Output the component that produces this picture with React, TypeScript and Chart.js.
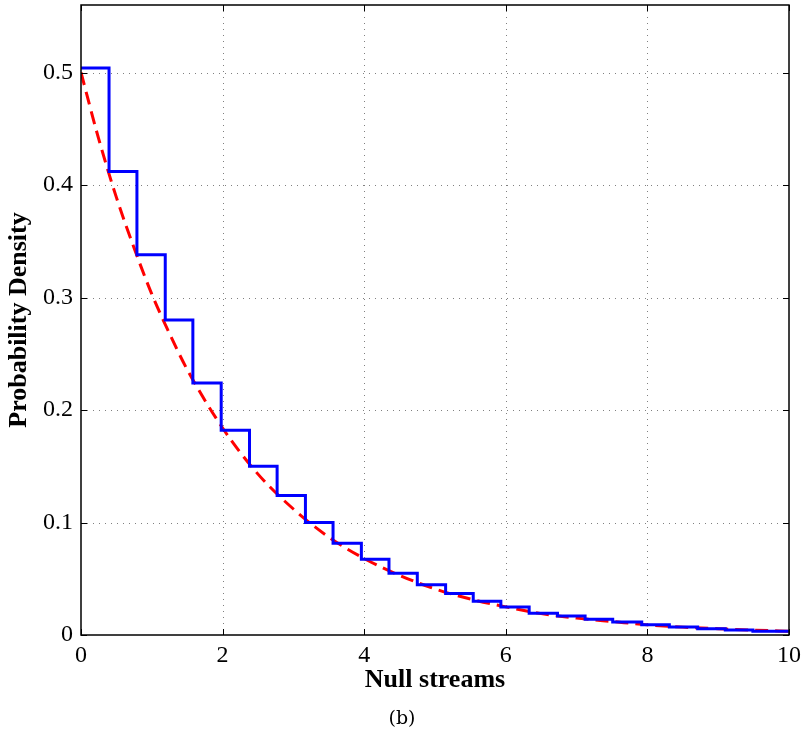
import React, { useEffect, useRef } from 'react';
import { Chart, registerables } from 'chart.js';

Chart.register(...registerables);

// Histogram bin edges (left edges + final right end) and densities
const binEdges = [0, 0.396, 0.79, 1.19, 1.58, 1.98, 2.38, 2.77, 3.17, 3.56, 3.96, 4.35, 4.75, 5.15, 5.54, 5.93, 6.33, 6.73, 7.12, 7.51, 7.92, 8.31, 8.71, 9.10, 9.49, 10];
const densities = [0.504, 0.412, 0.338, 0.280, 0.224, 0.182, 0.150, 0.124, 0.100, 0.0815, 0.0673, 0.0548, 0.0447, 0.037, 0.030, 0.025, 0.0193, 0.017, 0.014, 0.0116, 0.0092, 0.0071, 0.0056, 0.0044, 0.0033];

// Fitted density curve (red dashed)
const fitX = [0, 0.25, 0.5, 0.75, 1, 1.25, 1.5, 2, 2.5, 3, 3.5, 4, 4.5, 5, 5.5, 6, 6.5, 7, 7.5, 8, 8.5, 9, 9.5, 10];
const fitY = [0.500, 0.441, 0.389, 0.344, 0.303, 0.268, 0.236, 0.184, 0.143, 0.112, 0.087, 0.068, 0.053, 0.041, 0.032, 0.025, 0.019, 0.015, 0.012, 0.009, 0.007, 0.0056, 0.0043, 0.0034];

const xTickValues = [0, 2, 4, 6, 8, 10];
const yTickValues = [0, 0.1, 0.2, 0.3, 0.4, 0.5];
const xLabel = 'Null streams';
const yLabel = 'Probability Density';
const caption = '(b)';

export default function App() {
  const ref = useRef<HTMLCanvasElement>(null);

  useEffect(() => {
    document.body.style.margin = '0';
    const stairs: { x: number; y: number }[] = [];
    densities.forEach((d, i) => {
      stairs.push({ x: binEdges[i], y: d });
      stairs.push({ x: binEdges[i + 1], y: d });
    });
    const fit = fitX.map((x, i) => ({ x, y: fitY[i] }));

    const framePlugin = {
      id: 'matlabFrame',
      beforeDatasetsDraw(chart: any) {
        const { ctx, chartArea: a, scales } = chart;
        ctx.save();
        ctx.strokeStyle = '#808080';
        ctx.lineWidth = 1;
        ctx.setLineDash([1, 5]);
        xTickValues.forEach((v) => {
          if (v === 0 || v === 10) return;
          const px = Math.round(scales.x.getPixelForValue(v)) + 0.5;
          ctx.beginPath();
          ctx.moveTo(px, a.top);
          ctx.lineTo(px, a.bottom);
          ctx.stroke();
        });
        yTickValues.forEach((v) => {
          if (v === 0) return;
          const py = Math.round(scales.y.getPixelForValue(v)) + 0.5;
          ctx.beginPath();
          ctx.moveTo(a.left, py);
          ctx.lineTo(a.right, py);
          ctx.stroke();
        });
        ctx.restore();
      },
      afterDraw(chart: any) {
        const { ctx, chartArea: a, scales } = chart;
        ctx.save();
        ctx.setLineDash([]);
        ctx.strokeStyle = '#000';
        ctx.lineWidth = 1;
        const tl = 6;
        xTickValues.forEach((v) => {
          const px = Math.round(scales.x.getPixelForValue(v)) + 0.5;
          ctx.beginPath();
          ctx.moveTo(px, a.bottom);
          ctx.lineTo(px, a.bottom - tl);
          ctx.moveTo(px, a.top);
          ctx.lineTo(px, a.top + tl);
          ctx.stroke();
        });
        yTickValues.forEach((v) => {
          const py = Math.round(scales.y.getPixelForValue(v)) + 0.5;
          ctx.beginPath();
          ctx.moveTo(a.left, py);
          ctx.lineTo(a.left + tl, py);
          ctx.moveTo(a.right, py);
          ctx.lineTo(a.right - tl, py);
          ctx.stroke();
        });
        ctx.lineWidth = 1.5;
        ctx.strokeRect(a.left, a.top, a.right - a.left, a.bottom - a.top);
        ctx.fillStyle = '#000';
        ctx.font = '19px "DejaVu Serif"';
        ctx.textAlign = 'center';
        ctx.textBaseline = 'middle';
        ctx.fillText(caption, 402, 719);
        ctx.restore();
      },
    };

    const chart = new Chart(ref.current as HTMLCanvasElement, {
      type: 'scatter',
      data: {
        datasets: [
          {
            data: stairs,
            showLine: true,
            borderColor: '#0000ff',
            backgroundColor: '#0000ff',
            borderWidth: 3,
            pointRadius: 0,
            tension: 0,
            borderJoinStyle: 'miter',
          } as any,
          {
            data: fit,
            showLine: true,
            borderColor: '#ff0000',
            backgroundColor: '#ff0000',
            borderWidth: 3,
            borderDash: [13, 7],
            pointRadius: 0,
            cubicInterpolationMode: 'monotone',
          } as any,
        ],
      },
      options: {
        responsive: false,
        animation: false,
        events: [],
        layout: { padding: { left: 0, right: 17, top: 5, bottom: 39 } },
        plugins: { legend: { display: false }, tooltip: { enabled: false } },
        scales: {
          x: {
            type: 'linear',
            min: 0,
            max: 10,
            afterBuildTicks: (s: any) => {
              s.ticks = xTickValues.map((v) => ({ value: v }));
            },
            afterFit: (s: any) => {
              s.height = 61;
              s.paddingLeft = 0;
              s.paddingRight = 0;
            },
            grid: { display: false, drawTicks: false },
            border: { display: false },
            ticks: {
              padding: 6,
              color: '#000',
              maxRotation: 0,
              autoSkip: false,
              font: { family: 'Liberation Serif', size: 24 },
              callback: (v: any) => String(v),
            },
            title: {
              display: true,
              text: xLabel,
              color: '#000',
              font: { family: 'Liberation Serif', size: 26, weight: 'bold' },
              padding: { top: 0, bottom: 0 },
            },
          },
          y: {
            type: 'linear',
            min: 0,
            max: 0.56,
            afterBuildTicks: (s: any) => {
              s.ticks = yTickValues.map((v) => ({ value: v }));
            },
            afterFit: (s: any) => {
              s.width = 81;
              s.paddingTop = 0;
              s.paddingBottom = 0;
            },
            grid: { display: false, drawTicks: false },
            border: { display: false },
            ticks: {
              padding: 8,
              color: '#000',
              autoSkip: false,
              font: { family: 'Liberation Serif', size: 24 },
              callback: (v: any) => (v === 0 ? '0' : Number(v).toFixed(1)),
            },
            title: {
              display: true,
              text: yLabel,
              color: '#000',
              font: { family: 'Liberation Serif', size: 26, weight: 'bold' },
              padding: { top: 4, bottom: 0 },
            },
          },
        },
      } as any,
      plugins: [framePlugin],
    });
    return () => chart.destroy();
  }, []);

  return <canvas ref={ref} width={806} height={735} style={{ display: 'block' }} />;
}
